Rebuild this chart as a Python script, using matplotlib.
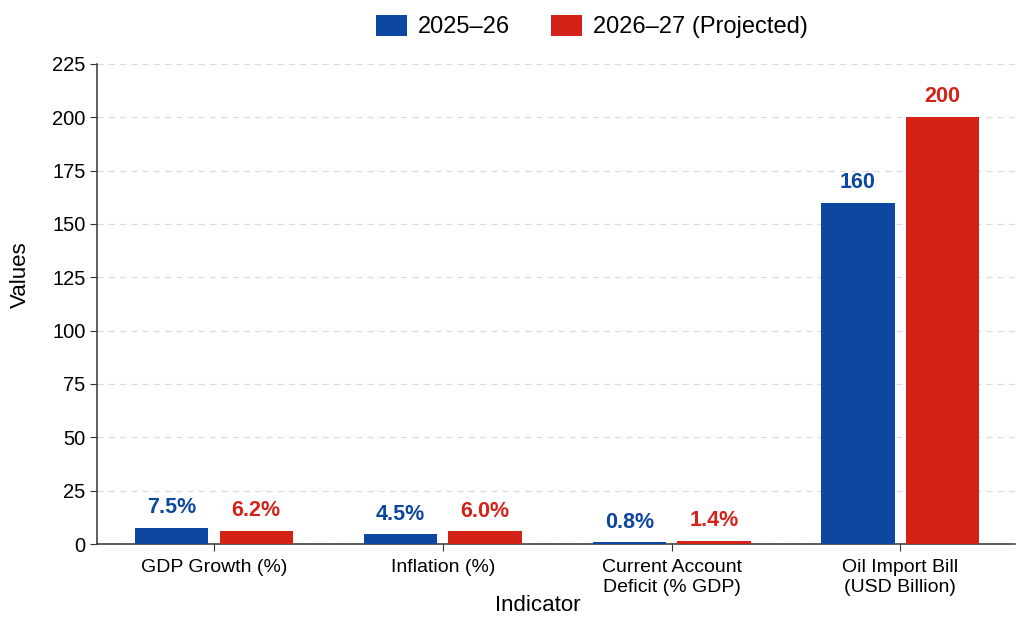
import numpy as np
import matplotlib.pyplot as plt

plt.rcParams['font.family'] = ['Liberation Sans', 'DejaVu Sans']

# Indicator values for the two fiscal years
indicators = ['GDP Growth (%)', 'Inflation (%)',
              'Current Account\nDeficit (% GDP)', 'Oil Import Bill\n(USD Billion)']
fy_2025 = [7.5, 4.5, 0.8, 160]
fy_2026 = [6.2, 6.0, 1.4, 200]
labels_2025 = ['7.5%', '4.5%', '0.8%', '160']
labels_2026 = ['6.2%', '6.0%', '1.4%', '200']
series_names = ['2025\u201326', '2026\u201327 (Projected)']

blue = '#0D47A1'
red = '#D32218'

fig = plt.figure(figsize=(10.24, 6.19), dpi=100)
ax = fig.add_axes([0.095, 0.121, 0.896, 0.776])

x = np.arange(len(indicators))
w = 0.32
gap = 0.05
b1 = ax.bar(x - (w + gap) / 2, fy_2025, w, color=blue, label=series_names[0], zorder=3)
b2 = ax.bar(x + (w + gap) / 2, fy_2026, w, color=red, label=series_names[1], zorder=3)

# value labels above each bar
for bars, labs, col in [(b1, labels_2025, blue), (b2, labels_2026, red)]:
    for rect, lab in zip(bars, labs):
        ax.annotate(lab, (rect.get_x() + rect.get_width() / 2, rect.get_height()),
                    xytext=(0, 7), textcoords='offset points',
                    ha='center', va='bottom', fontsize=15.5, fontweight='bold', color=col)

ax.set_ylim(0, 225)
ax.set_yticks(np.arange(0, 226, 25))
ax.set_xlim(-0.51, 3.5)
ax.set_xticks(x)
ax.set_xticklabels(indicators, fontsize=14, linespacing=1.2)
ax.tick_params(axis='y', labelsize=14.5, length=5, color='#333333')
ax.tick_params(axis='x', length=5, color='#333333', pad=6)

ax.yaxis.grid(True, linestyle=(0, (5, 4)), color='#dcdcdc', linewidth=0.9, zorder=0)
ax.set_axisbelow(True)
for s in ['top', 'right']:
    ax.spines[s].set_visible(False)
for s in ['left', 'bottom']:
    ax.spines[s].set_color('#333333')
    ax.spines[s].set_linewidth(1.1)

ax.set_ylabel('Values', fontsize=16)
ax.yaxis.set_label_coords(-0.072, 0.56)
ax.set_xlabel('Indicator', fontsize=16)
ax.xaxis.set_label_coords(0.48, -0.105)

fig.legend(loc='center', bbox_to_anchor=(0.578, 0.957), ncol=2, frameon=False,
           fontsize=17, handlelength=1.3, handleheight=1.0,
           handletextpad=0.47, columnspacing=1.75)

fig.savefig('out.png', dpi=100)
